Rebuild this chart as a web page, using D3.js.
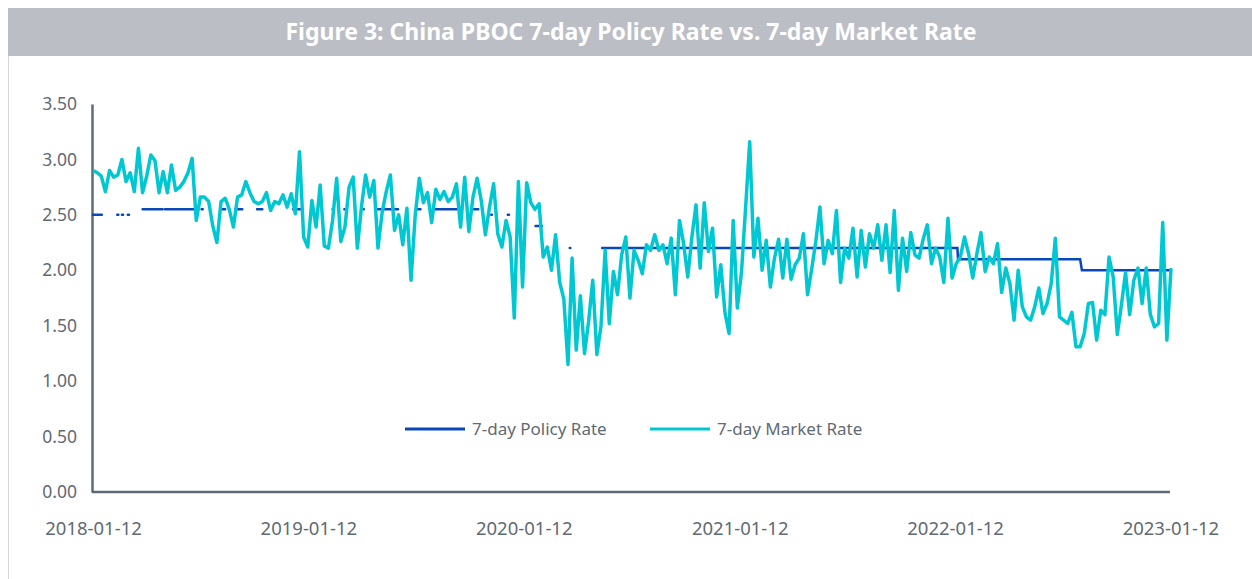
<!DOCTYPE html>
<html>
<head>
<meta charset="utf-8">
<script src="https://cdn.jsdelivr.net/npm/d3@7"></script>
<style>
  body { margin: 0; background: #fff; }
  #chart { width: 1252px; height: 579px; }
  text { font-family: "Source Sans Pro", "Noto Sans", "Open Sans", sans-serif; }
</style>
</head>
<body>
<div id="chart"></div>
<script>
// chart data
var title = "Figure 3: China PBOC 7-day Policy Rate vs. 7-day Market Rate";
var seriesNames = ["7-day Policy Rate", "7-day Market Rate"];
var colors = ["#0a47b8", "#00c8d2"];
var yTicks = [0, 0.5, 1, 1.5, 2, 2.5, 3, 3.5];
var xTickLabels = ["2018-01-12", "2019-01-12", "2020-01-12", "2021-01-12", "2022-01-12", "2023-01-12"];

// policy rate: only quoted on operation days early on, so gaps (null) between runs
var policyDates = [
  "2018-01-12", "2018-01-27", null,
  "2018-02-22", "2018-02-24", null,
  "2018-03-02", "2018-03-04", null,
  "2018-03-12", "2018-03-14", null,
  "2018-04-06", "2018-05-10", null,
  "2018-05-14", "2018-07-03", null,
  "2018-07-15", "2018-07-17", null,
  "2018-08-19", "2018-08-24", null,
  "2018-09-10", "2018-09-22", null,
  "2018-10-17", "2018-10-26", null,
  "2018-12-17", "2019-01-03", null,
  "2019-02-22", "2019-02-24", null,
  "2019-03-14", "2019-03-16", null,
  "2019-04-14", "2019-04-16", null,
  "2019-05-05", "2019-06-13", null,
  "2019-07-15", "2019-07-21", null,
  "2019-08-12", "2019-09-21", null,
  "2019-10-17", "2019-10-27", null,
  "2019-11-18", "2019-11-19", null,
  "2019-12-16", "2019-12-18", null,
  "2020-02-01", "2020-02-12", null,
  "2020-03-30", "2020-03-31", null,
  "2020-05-24", "2022-01-16", "2022-01-17", "2022-08-12", "2022-08-15", "2023-01-12"
];
var policyValues = [
  2.50, 2.50, null,
  2.50, 2.50, null,
  2.50, 2.50, null,
  2.50, 2.50, null,
  2.55, 2.55, null,
  2.55, 2.55, null,
  2.55, 2.55, null,
  2.55, 2.55, null,
  2.55, 2.55, null,
  2.55, 2.55, null,
  2.55, 2.55, null,
  2.55, 2.55, null,
  2.55, 2.55, null,
  2.55, 2.55, null,
  2.55, 2.55, null,
  2.55, 2.55, null,
  2.55, 2.55, null,
  2.55, 2.55, null,
  2.50, 2.50, null,
  2.50, 2.50, null,
  2.40, 2.40, null,
  2.20, 2.20, null,
  2.20, 2.20, 2.10, 2.10, 2.00, 2.00
];

// market rate, one reading per week starting 2018-01-12
var marketStart = "2018-01-12";
var marketValues = [
  2.90, 2.88, 2.85, 2.71, 2.90, 2.84, 2.86, 3.00, 2.80, 2.88,
  2.71, 3.10, 2.70, 2.85, 3.04, 2.99, 2.70, 2.89, 2.70, 2.95,
  2.72, 2.75, 2.80, 2.88, 3.01, 2.45, 2.66, 2.66, 2.62, 2.40,
  2.25, 2.62, 2.65, 2.55, 2.39, 2.66, 2.68, 2.80, 2.70, 2.62,
  2.60, 2.62, 2.70, 2.54, 2.62, 2.60, 2.68, 2.57, 2.69, 2.51,
  3.07, 2.30, 2.21, 2.63, 2.39, 2.77, 2.22, 2.20, 2.45, 2.83,
  2.26, 2.39, 2.75, 2.84, 2.20, 2.57, 2.86, 2.66, 2.81, 2.20,
  2.52, 2.71, 2.86, 2.36, 2.50, 2.23, 2.56, 1.91, 2.49, 2.83,
  2.61, 2.70, 2.43, 2.73, 2.64, 2.71, 2.62, 2.66, 2.78, 2.39,
  2.84, 2.35, 2.66, 2.83, 2.63, 2.32, 2.57, 2.78, 2.33, 2.21,
  2.45, 2.30, 1.57, 2.80, 1.85, 2.79, 2.61, 2.55, 2.60, 2.12,
  2.21, 2.00, 2.32, 1.89, 1.74, 1.15, 2.11, 1.28, 1.77, 1.25,
  1.54, 1.91, 1.24, 1.50, 2.18, 1.52, 1.99, 1.78, 2.14, 2.30,
  1.75, 2.18, 2.09, 1.97, 2.23, 2.18, 2.32, 2.18, 2.23, 2.06,
  2.29, 1.78, 2.45, 2.24, 1.94, 2.30, 2.59, 2.02, 2.61, 2.17,
  2.38, 1.76, 2.05, 1.62, 1.43, 2.45, 1.66, 1.98, 2.56, 3.16,
  2.12, 2.47, 2.00, 2.27, 1.85, 2.11, 2.28, 1.93, 2.28, 1.92,
  2.05, 2.11, 2.33, 1.78, 2.01, 2.26, 2.57, 2.06, 2.27, 2.15,
  2.54, 1.89, 2.20, 2.11, 2.38, 1.94, 2.36, 2.03, 2.33, 2.20,
  2.41, 2.09, 2.41, 1.98, 2.54, 1.82, 2.29, 1.99, 2.34, 2.14,
  2.11, 2.28, 2.41, 2.06, 2.20, 2.12, 1.89, 2.47, 1.93, 2.06,
  2.12, 2.30, 2.15, 1.93, 2.15, 2.34, 1.99, 2.12, 2.06, 2.24,
  1.80, 2.02, 1.88, 1.55, 2.00, 1.67, 1.58, 1.55, 1.67, 1.84,
  1.61, 1.70, 1.88, 2.29, 1.58, 1.55, 1.52, 1.62, 1.31, 1.31,
  1.43, 1.70, 1.71, 1.37, 1.64, 1.60, 2.12, 1.94, 1.42, 1.69,
  1.98, 1.60, 1.91, 2.02, 1.70, 2.02, 1.60, 1.49, 1.52, 2.43,
  1.37, 2.02
];

var parseDate = d3.timeParse("%Y-%m-%d");
var W = 1252, H = 579;
var svg = d3.select("#chart").append("svg")
  .attr("width", W)
  .attr("height", H);

// title band
svg.append("rect")
  .attr("x", 8).attr("y", 8)
  .attr("width", W - 8).attr("height", 48)
  .attr("fill", "#bcbec6");
svg.append("line")
  .attr("x1", 8.5).attr("x2", 8.5)
  .attr("y1", 56).attr("y2", H)
  .attr("stroke", "#d4d6db").attr("stroke-width", 1);
svg.append("text")
  .attr("x", 631).attr("y", 40)
  .attr("text-anchor", "middle")
  .attr("fill", "#fff")
  .style("font-size", "23px")
  .style("font-weight", "bold")
  .text(title);

var x = d3.scaleTime()
  .domain([parseDate("2018-01-12"), parseDate("2023-01-13")])
  .range([93, 1171]);
var y = d3.scaleLinear()
  .domain([0, 3.5])
  .range([492, 104]);

// y axis
var yAxis = svg.append("g")
  .attr("transform", "translate(92,0)")
  .call(d3.axisLeft(y).tickValues(yTicks).tickFormat(d3.format(".2f")).tickSize(0).tickPadding(15));
yAxis.select(".domain").attr("stroke", "#5f6a74").attr("stroke-width", 2.5);
yAxis.selectAll("text").attr("fill", "#5f6a74").style("font-size", "17.5px");

// x axis
var xAxis = svg.append("g")
  .attr("transform", "translate(0,492)")
  .call(d3.axisBottom(x)
    .tickValues(xTickLabels.map(parseDate))
    .tickFormat(d3.timeFormat("%Y-%m-%d"))
    .tickSize(0).tickPadding(30));
xAxis.select(".domain").attr("stroke", "#5f6a74").attr("stroke-width", 2.5)
  .attr("d", "M92,0H1170");
xAxis.selectAll("text").attr("fill", "#5f6a74").style("font-size", "18.5px");

// series
var policyData = policyDates.map(function(d, i) {
  return { date: d ? parseDate(d) : null, v: policyValues[i] };
});
var start = parseDate(marketStart);
var marketData = marketValues.map(function(v, i) {
  return { date: d3.timeDay.offset(start, i * 7), v: v };
});

var line = d3.line()
  .defined(function(d) { return d.v != null; })
  .x(function(d) { return x(d.date); })
  .y(function(d) { return y(d.v); });

svg.append("path")
  .datum(policyData)
  .attr("fill", "none")
  .attr("stroke", colors[0])
  .attr("stroke-width", 2.5)
  .attr("stroke-linecap", "round")
  .attr("d", line);

svg.append("path")
  .datum(marketData)
  .attr("fill", "none")
  .attr("stroke", colors[1])
  .attr("stroke-width", 3.5)
  .attr("stroke-linejoin", "round")
  .attr("d", line);

// legend
var legendX = [405, 650];
var legend = svg.append("g");
seriesNames.forEach(function(name, i) {
  legend.append("line")
    .attr("x1", legendX[i]).attr("x2", legendX[i] + 60)
    .attr("y1", 429).attr("y2", 429)
    .attr("stroke", colors[i]).attr("stroke-width", 3);
  legend.append("text")
    .attr("x", legendX[i] + 67).attr("y", 435)
    .attr("fill", "#5f6a74")
    .style("font-size", "17px")
    .text(name);
});
</script>
</body>
</html>
